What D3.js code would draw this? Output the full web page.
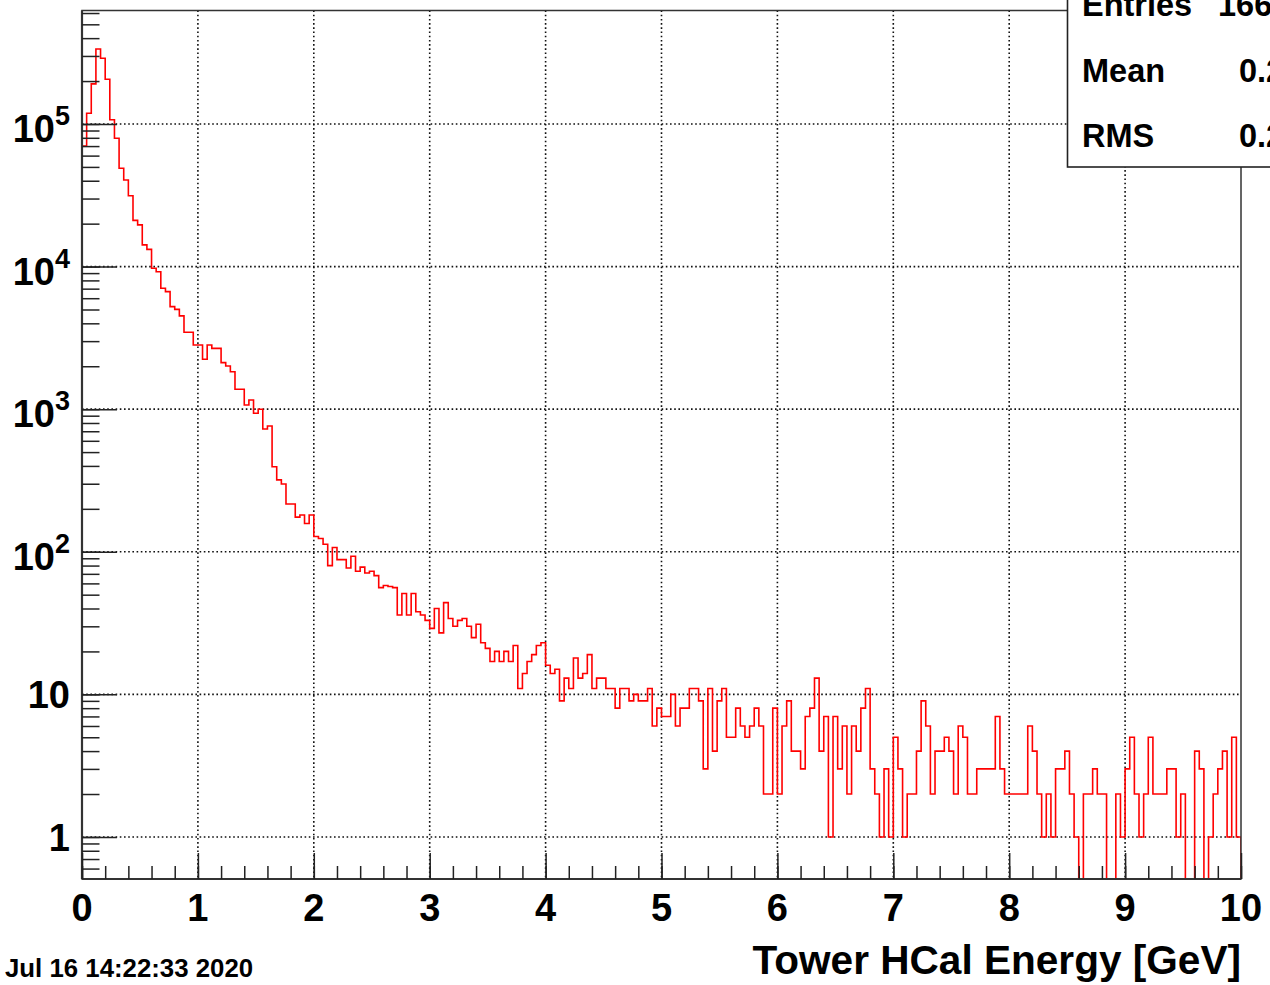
<!DOCTYPE html>
<html>
<head>
<meta charset="utf-8">
<script src="https://cdn.jsdelivr.net/npm/d3@7"></script>
<style>
    body { margin: 0; background: #ffffff; }
    text { font-family: "Liberation Sans", Arial, Helvetica, sans-serif; font-weight: bold; fill: #000; }
</style>
</head>
<body>
<div class="histDiv"></div>
<script>
"use strict"

// bin contents, 250 bins of 0.04 GeV between 0 and 10
var counts = [
    70100, 119000, 191000, 336000, 289000, 206000, 107000, 79400, 48900, 40500,
    31400, 21100, 19600, 14200, 13200, 9730, 9200, 7050, 6670, 5240,
    5010, 4510, 3460, 3460, 2820, 2820, 2240, 2820, 2670, 2670,
    2120, 2010, 1830, 1378, 1378, 1069, 1160, 936, 998, 726,
    762, 395, 319, 299, 216, 216, 175, 181, 158, 181,
    128, 124, 113, 80, 107, 88, 88, 77, 93, 73,
    78, 71, 73, 68, 56, 58, 57, 56, 36, 51,
    36, 51, 38, 36, 33, 29, 40, 27, 44, 34,
    30, 33, 34, 30, 25, 31, 23, 21, 17, 20,
    17, 20, 17, 22, 11, 14, 17, 19, 22, 23,
    16, 14, 15, 9, 13, 11, 18, 13, 14, 19,
    11, 13, 13, 11, 11, 8, 11, 11, 9, 10,
    9, 9, 11, 6, 8, 7, 7, 10, 6, 8,
    8, 11, 11, 9, 3, 11, 4, 9, 11, 5,
    5, 8, 6, 5, 6, 8, 6, 2, 2, 8,
    2, 6, 9, 4, 4, 3, 7, 8, 13, 4,
    7, 1, 7, 3, 6, 2, 6, 4, 8, 11,
    3, 2, 1, 3, 1, 5, 3, 1, 2, 2,
    4, 9, 6, 2, 4, 4, 5, 4, 2, 6,
    5, 2, 2, 3, 3, 3, 3, 7, 3, 2,
    2, 2, 2, 2, 6, 4, 2, 1, 2, 1,
    3, 3, 4, 2, 1, 0, 2, 2, 3, 2,
    2, 0, 0, 2, 1, 3, 5, 2, 1, 2,
    5, 2, 2, 2, 3, 3, 1, 2, 0, 0,
    4, 3, 0, 1, 2, 3, 4, 1, 5, 1
];
var binWidth = 0.04;

var xTickValues = [0, 1, 2, 3, 4, 5, 6, 7, 8, 9, 10];
var xTickLabels = ["0", "1", "2", "3", "4", "5", "6", "7", "8", "9", "10"];
var yDecades = [1, 10, 100, 1000, 10000, 100000];
var yDecadeBase = ["1", "10", "10", "10", "10", "10"];
var yDecadeExp = ["", "", "2", "3", "4", "5"];

var statNames = ["Entries", "Mean", "RMS"];
var statValues = ["166", "0.2", "0.2"];

var xTitle = "Tower HCal Energy [GeV]";
var dateText = "Jul 16 14:22:33 2020";

var width = 1270;
var height = 985;
var frame = {left: 82, right: 1241, top: 10.5, bottom: 879};
var yMin = 0.507;
var yMax = 6.25e5;

var svg = d3.select(".histDiv").append("svg")
                .attr("width", width)
                .attr("height", height)
                .attr("viewBox", "0 0 " + width + " " + height);

svg.append("rect")
    .attr("width", width)
    .attr("height", height)
    .attr("fill", "#ffffff");

var xScale = d3.scaleLinear().domain([0, 10]).range([frame.left, frame.right]);
var yScale = d3.scaleLog().domain([yMin, yMax]).range([frame.bottom, frame.top]);

svg.append("defs").append("clipPath")
    .attr("id", "frameClip")
    .append("rect")
    .attr("x", frame.left)
    .attr("y", frame.top)
    .attr("width", frame.right - frame.left)
    .attr("height", frame.bottom - frame.top);

// dotted grid
var gridGroup = svg.append("g").attr("class", "grid");

gridGroup.selectAll(".gridX")
    .data(xTickValues.slice(1, -1))
    .enter()
    .append("line")
    .attr("x1", function(d) { return xScale(d) })
    .attr("x2", function(d) { return xScale(d) })
    .attr("y1", frame.top)
    .attr("y2", frame.bottom)
    .attr("stroke", "#111")
    .attr("stroke-width", 1.6)
    .attr("stroke-dasharray", "1.6,2.6");

gridGroup.selectAll(".gridY")
    .data(yDecades)
    .enter()
    .append("line")
    .attr("x1", frame.left)
    .attr("x2", frame.right)
    .attr("y1", function(d) { return yScale(d) })
    .attr("y2", function(d) { return yScale(d) })
    .attr("stroke", "#111")
    .attr("stroke-width", 1.6)
    .attr("stroke-dasharray", "1.6,2.6");

// histogram outline
var outline = [[0, yMin]];
counts.forEach(function(c, i)
{
    var v = Math.max(c, yMin);
    outline.push([i * binWidth, v]);
    outline.push([(i + 1) * binWidth, v]);
});
outline.push([counts.length * binWidth, yMin]);

var histLine = d3.line()
                .x(function(d) { return xScale(d[0]) })
                .y(function(d) { return yScale(d[1]) });

svg.append("path")
    .attr("clip-path", "url(#frameClip)")
    .attr("d", histLine(outline))
    .attr("fill", "none")
    .attr("stroke", "#ff0000")
    .attr("stroke-width", 1.6);

// frame
svg.append("rect")
    .attr("x", frame.left)
    .attr("y", frame.top)
    .attr("width", frame.right - frame.left)
    .attr("height", frame.bottom - frame.top)
    .attr("fill", "none")
    .attr("stroke", "#333")
    .attr("stroke-width", 1.5);

svg.append("line")
    .attr("x1", frame.left).attr("x2", frame.left)
    .attr("y1", frame.top).attr("y2", frame.bottom)
    .attr("stroke", "#333").attr("stroke-width", 2.2);
svg.append("line")
    .attr("x1", frame.left).attr("x2", frame.right)
    .attr("y1", frame.bottom).attr("y2", frame.bottom)
    .attr("stroke", "#333").attr("stroke-width", 2.2);

// ticks, drawn inside the frame like ROOT
var yMinor = yScale.ticks().filter(function(d) { return d >= yMin && d <= yMax });
var xMinor = d3.range(0, 10.0001, 0.2);

var yMinorAxis = svg.append("g")
                    .attr("transform", "translate(" + frame.left + ",0)")
                    .call(d3.axisLeft(yScale).tickValues(yMinor).tickSize(-17.5).tickFormat(""));
var yMajorAxis = svg.append("g")
                    .attr("transform", "translate(" + frame.left + ",0)")
                    .call(d3.axisLeft(yScale).tickValues(yDecades).tickSize(-35).tickFormat(""));
var xMinorAxis = svg.append("g")
                    .attr("transform", "translate(0," + frame.bottom + ")")
                    .call(d3.axisBottom(xScale).tickValues(xMinor).tickSize(-13).tickFormat(""));
var xMajorAxis = svg.append("g")
                    .attr("transform", "translate(0," + frame.bottom + ")")
                    .call(d3.axisBottom(xScale).tickValues(xTickValues).tickSize(-26).tickFormat(""));

[yMinorAxis, yMajorAxis, xMinorAxis, xMajorAxis].forEach(function(ax)
{
    ax.select(".domain").remove();
    ax.selectAll(".tick line").attr("stroke", "#222").attr("stroke-width", 1.5);
});

// x labels
svg.append("g")
    .attr("class", "xLabels")
    .selectAll("text")
    .data(xTickValues)
    .enter()
    .append("text")
    .attr("x", function(d) { return xScale(d) })
    .attr("y", 921)
    .attr("text-anchor", "middle")
    .attr("font-size", 38)
    .text(function(d, i) { return xTickLabels[i] });

// y labels with exponents
var yLabels = svg.append("g")
                .attr("class", "yLabels")
                .selectAll("text")
                .data(yDecades)
                .enter()
                .append("text")
                .attr("x", 70)
                .attr("y", function(d, i) { return yScale(d) + (yDecadeExp[i] ? 18 : 14) })
                .attr("text-anchor", "end")
                .attr("font-size", 38);

yLabels.append("tspan")
    .text(function(d, i) { return yDecadeBase[i] });

yLabels.filter(function(d, i) { return yDecadeExp[i] !== "" })
    .append("tspan")
    .attr("font-size", 27)
    .attr("dy", -17)
    .text(function(d) { return yDecadeExp[yDecades.indexOf(d)] });

// axis title and date
svg.append("text")
    .attr("x", frame.right)
    .attr("y", 974)
    .attr("text-anchor", "end")
    .attr("font-size", 40.6)
    .text(xTitle);

svg.append("text")
    .attr("x", 5)
    .attr("y", 977)
    .attr("font-size", 25.8)
    .text(dateText);

// stats box, runs off the top and the right of the canvas
var statBox = svg.append("g").attr("class", "statBox");

statBox.append("rect")
    .attr("x", 1067.5)
    .attr("y", -20)
    .attr("width", 300)
    .attr("height", 187)
    .attr("fill", "#ffffff")
    .attr("stroke", "#222")
    .attr("stroke-width", 1.6);

var statRows = [16, 82, 147];

statBox.selectAll(".statName")
    .data(statNames)
    .enter()
    .append("text")
    .attr("x", 1082)
    .attr("y", function(d, i) { return statRows[i] })
    .attr("font-size", 32.5)
    .text(function(d) { return d });

statBox.selectAll(".statValue")
    .data(statValues)
    .enter()
    .append("text")
    .attr("x", function(d, i) { return i === 0 ? 1218 : 1239 })
    .attr("y", function(d, i) { return statRows[i] })
    .attr("font-size", 32.5)
    .text(function(d) { return d });
</script>
</body>
</html>
